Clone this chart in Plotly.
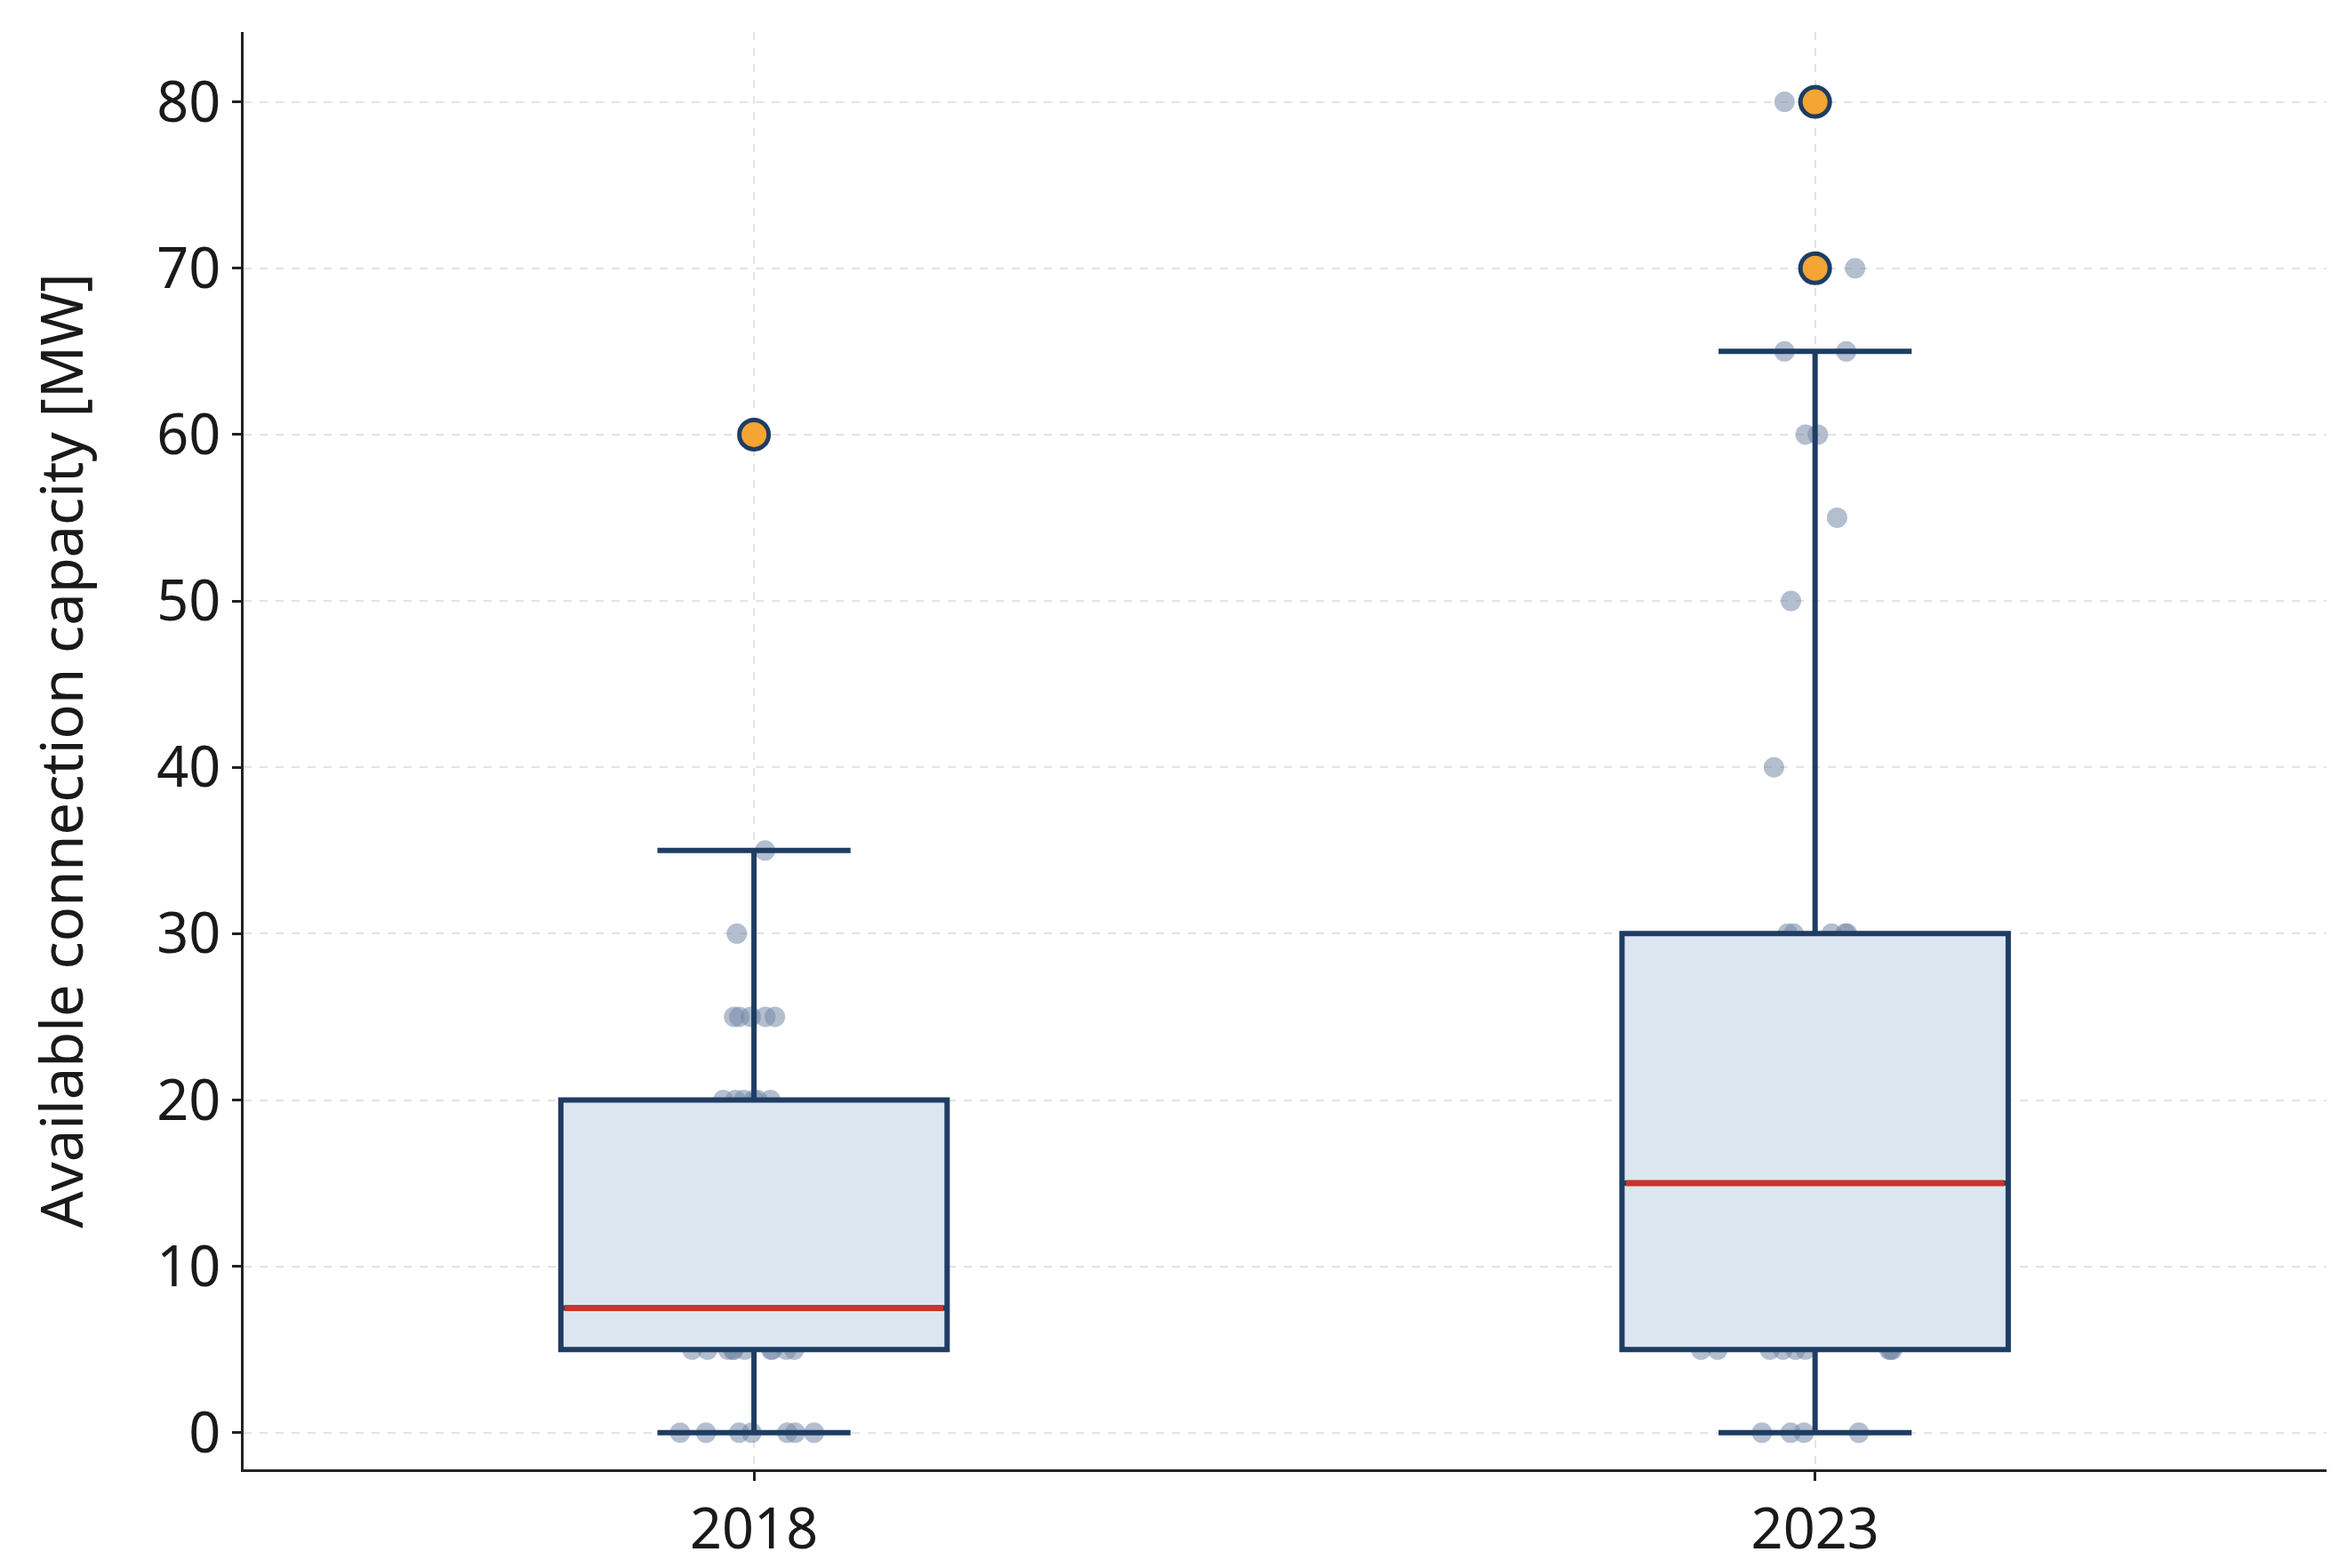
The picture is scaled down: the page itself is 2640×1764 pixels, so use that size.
"""
connection_capacity_boxplot.py

Box plot of available connection capacity per year, with the raw
observations shown as jittered points behind the boxes.
"""

from __future__ import annotations

import numpy as np
import plotly.graph_objects as go

# --- data -----------------------------------------------------------------
years = ["2018", "2023"]

capacity_2018 = [
    0, 0, 0, 0, 0, 0, 0,
    5, 5, 5, 5, 5, 5, 5, 5, 5, 5,
    10, 10, 15,
    20, 20, 20, 20, 20, 20,
    25, 25, 25, 25, 25,
    30, 35, 60,
]

capacity_2023 = [
    0, 0, 0, 0,
    5, 5, 5, 5, 5, 5, 5, 5, 5,
    10, 10, 10, 10,
    15, 15, 15, 15, 15,
    20, 20, 25, 25,
    30, 30, 30, 30, 30,
    40, 50, 55, 60, 60, 65, 65, 70, 80,
]

y_tick_values = [0, 10, 20, 30, 40, 50, 60, 70, 80]

# --- style ----------------------------------------------------------------
BOX_WIDTH = 0.364
NAVY = "#1f3d63"
BOX_FILL = "#dce6f1"
MEDIAN_RED = "#c8342b"
OUTLIER_ORANGE = "#f4a533"
POINT_COLOR = "#7489a8"
GRID_COLOR = "#e3e3e3"
FONT_FAMILY = "Noto Sans"


def build_figure() -> go.Figure:
    """Build the box plot figure."""
    groups = [capacity_2018, capacity_2023]
    x_values = [year for year, values in zip(years, groups) for _ in values]
    y_values = [value for values in groups for value in values]
    medians = [float(np.median(values)) for values in groups]

    # raw observations, drawn first so the boxes cover them
    points_trace = go.Box(
        x=x_values,
        y=y_values,
        width=BOX_WIDTH,
        boxpoints="all",
        jitter=0.6,
        pointpos=0,
        fillcolor="rgba(0,0,0,0)",
        line=dict(color="rgba(0,0,0,0)", width=0),
        marker=dict(color=POINT_COLOR, size=23, opacity=0.55),
        hoverinfo="skip",
    )

    box_trace = go.Box(
        x=x_values,
        y=y_values,
        width=BOX_WIDTH,
        boxpoints="outliers",
        jitter=0,
        pointpos=0,
        whiskerwidth=0.5,
        fillcolor=BOX_FILL,
        line=dict(color=NAVY, width=6),
        marker=dict(
            color=OUTLIER_ORANGE,
            size=33,
            opacity=1,
            line=dict(color=NAVY, width=5),
        ),
        hoverinfo="skip",
    )

    # median drawn as a flat red box on top
    median_trace = go.Box(
        x=years,
        q1=medians,
        median=medians,
        q3=medians,
        lowerfence=medians,
        upperfence=medians,
        width=BOX_WIDTH * 0.98,
        whiskerwidth=0,
        fillcolor="rgba(0,0,0,0)",
        line=dict(color=MEDIAN_RED, width=7),
        hoverinfo="skip",
    )

    figure = go.Figure(data=[points_trace, box_trace, median_trace])

    axis_common = dict(
        showline=True,
        linecolor="#222222",
        linewidth=3,
        ticks="outside",
        ticklen=10,
        tickwidth=3,
        tickcolor="#222222",
        showgrid=True,
        gridcolor=GRID_COLOR,
        gridwidth=2,
        griddash="dash",
        zeroline=False,
        tickfont=dict(family=FONT_FAMILY, size=63, color="#1a1a1a"),
    )

    figure.update_layout(
        width=2640,
        height=1764,
        boxmode="overlay",
        showlegend=False,
        paper_bgcolor="white",
        plot_bgcolor="white",
        font=dict(family=FONT_FAMILY, color="#1a1a1a"),
        margin=dict(l=266, r=31, t=28, b=98),
        xaxis=dict(
            **axis_common,
            type="category",
            categoryorder="array",
            categoryarray=years,
            range=[-0.481, 1.482],
        ),
        yaxis=dict(
            **axis_common,
            range=[-2.2, 84.2],
            tickvals=y_tick_values,
            title=dict(
                text="Available connection capacity [MW]",
                font=dict(family=FONT_FAMILY, size=65, color="#1a1a1a"),
                standoff=62,
            ),
        ),
    )
    return figure


def main() -> None:
    figure = build_figure()
    figure.write_html("out.html")


if __name__ == "__main__":
    main()
